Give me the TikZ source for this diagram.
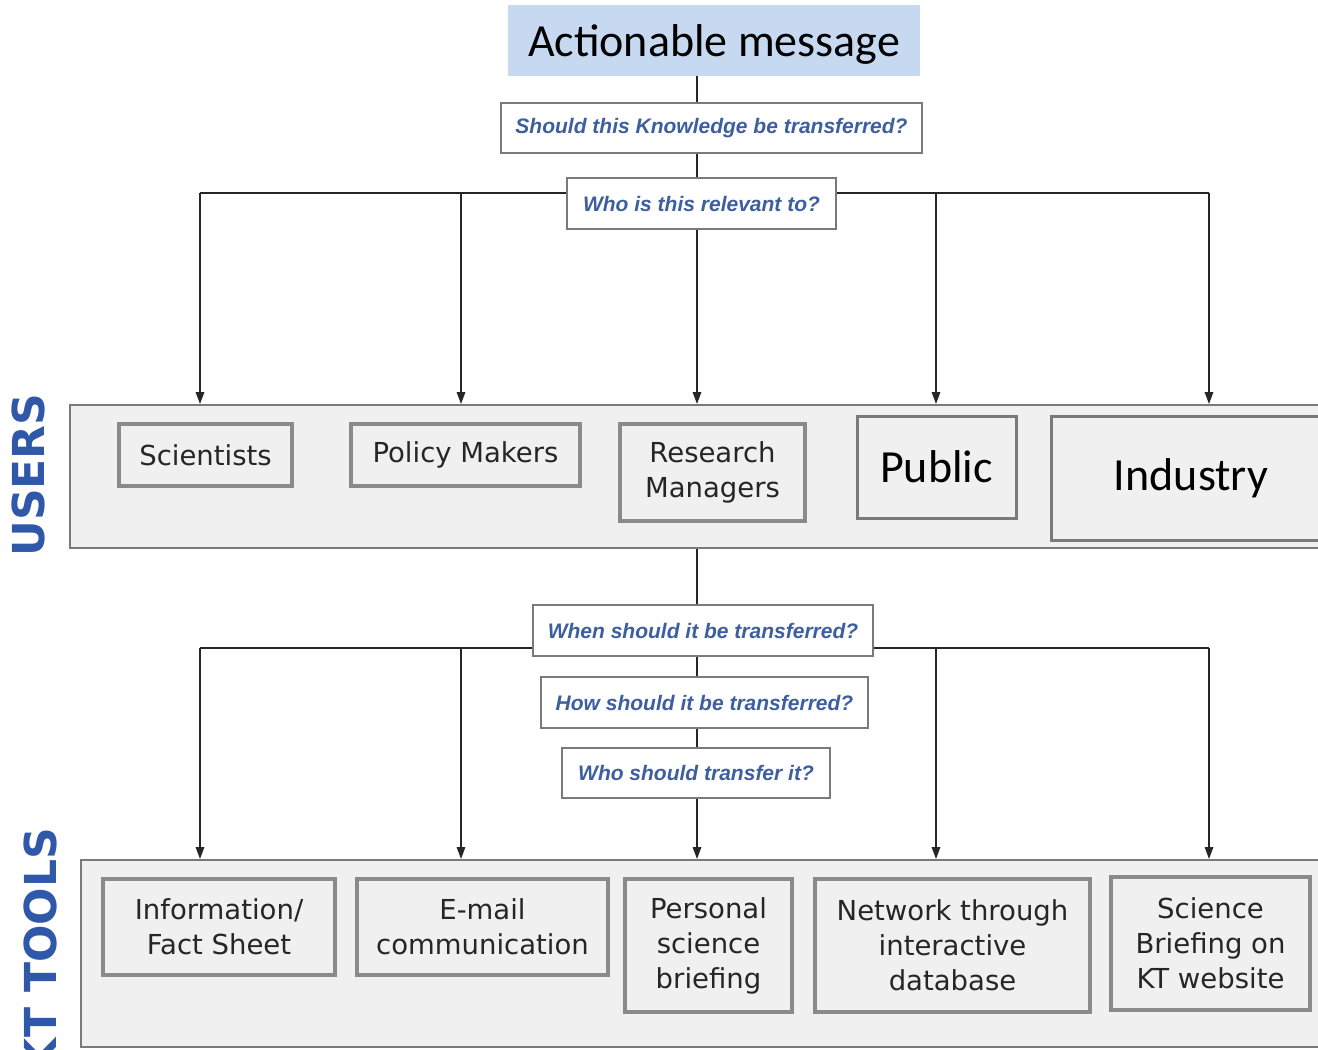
\documentclass[tikz,border=0pt]{standalone}
\usepackage{fontspec}
\usetikzlibrary{arrows.meta}
\newfontfamily\calib{Carlito}
\newfontfamily\arialf{Liberation Sans}
\newfontfamily\verd{DejaVu Sans}
\definecolor{qblue}{HTML}{3D5FA0}
\definecolor{lblue}{HTML}{2F58A8}
\definecolor{topfill}{HTML}{C6D9F1}
\definecolor{panelfill}{HTML}{F0F0F0}
\definecolor{bordgray}{HTML}{7A7A7A}
\definecolor{boxgray}{HTML}{8A8A8A}
\begin{document}
\begin{tikzpicture}[x=1pt,y=-1pt,
 qbox/.style={draw=bordgray, line width=1.8pt, fill=white, inner sep=0pt, font=\arialf\bfseries\itshape\fontsize{21}{25}\selectfont, text=qblue},
 panel/.style={draw=bordgray, line width=2pt, fill=panelfill, inner sep=0pt},
 ubox/.style={draw=boxgray, line width=3.5pt, fill=panelfill, inner sep=0pt, align=center, font=\verd\fontsize{27.5}{35}\selectfont, text=black!85},
 cbox/.style={draw=bordgray, line width=3pt, fill=panelfill, inner sep=0pt, font=\calib\fontsize{46}{50}\selectfont},
 conn/.style={line width=1.6pt, draw=black!85},
 arr/.style={conn, -{Triangle[length=12pt,width=8.5pt]}},
 side/.style={rotate=90, inner sep=0pt, font=\verd\bfseries\fontsize{44}{50}\selectfont, text=lblue}
]
\useasboundingbox (0,0) rectangle (1318,1050);
\clip (0,0) rectangle (1318,1050);
\fill[white] (0,0) rectangle (1318,1050);

% top
\node[fill=topfill, minimum width=412pt, minimum height=71pt, inner sep=0pt, text depth=0pt, font=\calib\fontsize{46}{50}\selectfont] (top) at (714,40.5) {Actionable message};
\node[qbox, minimum width=421pt, minimum height=50pt] (q1) at (711.5,128) {Should this Knowledge be transferred?};
\node[qbox, minimum width=269pt, minimum height=51pt] (q2) at (701.5,203.5) {Who is this relevant to?};

% users panel
\node[panel, minimum width=1260pt, minimum height=143pt] (users) at (700,476.5) {};
\node[side] (lu) at (28.5,475) {USERS};
\node[ubox, minimum width=173pt, minimum height=62pt] (sci) at (205.5,455) {Scientists};
\node[ubox, minimum width=229pt, minimum height=62pt] (pol) at (465.5,455) {Policy Makers};
\node[ubox, minimum width=185pt, minimum height=97pt] (res) at (712.5,472.5) {Research\\Managers};
\node[cbox, minimum width=159pt, minimum height=102pt] (pub) at (936.5,467) {Public};
\node[cbox, minimum width=280pt, minimum height=124pt] (ind) at (1191,478) {Industry};

% questions 2
\node[qbox, minimum width=340pt, minimum height=51pt] (q3) at (703,630.5) {When should it be transferred?};
\node[qbox, minimum width=327pt, minimum height=51pt] (q4) at (704.5,702.5) {How should it be transferred?};
\node[qbox, minimum width=268pt, minimum height=50pt] (q5) at (696,773) {Who should transfer it?};

% tools panel
\node[panel, minimum width=1249pt, minimum height=187pt] (tools) at (705.5,953.5) {};
\node[side] (lk) at (40,950) {KT TOOLS};
\node[ubox, minimum width=232pt, minimum height=96pt] (t1) at (219,927) {Information/\\Fact Sheet};
\node[ubox, minimum width=251pt, minimum height=96pt] (t2) at (482.5,927) {E-mail\\communication};
\node[ubox, minimum width=167pt, minimum height=133pt] (t3) at (708.5,945.5) {Personal\\science\\briefing};
\node[ubox, minimum width=275pt, minimum height=133pt] (t4) at (952.5,945.5) {Network through\\interactive\\database};
\node[ubox, minimum width=199pt, minimum height=133pt] (t5) at (1210.5,943.5) {Science\\Briefing on\\KT website};

% connectors
\coordinate (s) at (697,0);
\draw[conn] (top.south -| s) -- (q1.north -| s);
\draw[conn] (q1.south -| s) -- (q2.north -| s);
\coordinate (u1) at (200,193);
\coordinate (u2) at (461,193);
\coordinate (u4) at (936,193);
\coordinate (u5) at (1209,193);
\draw[conn] (u1) -- (q2.west |- u1);
\draw[conn] (q2.east |- u5) -- (u5);
\foreach \c in {u1,u2,u4,u5} \draw[arr] (\c) -- (\c |- users.north);
\draw[arr] (q2.south -| s) -- (users.north -| s);

\draw[conn] (users.south -| s) -- (q3.north -| s);
\coordinate (w1) at (200,648);
\coordinate (w2) at (461,648);
\coordinate (w4) at (936,648);
\coordinate (w5) at (1209,648);
\draw[conn] (w1) -- (q3.west |- w1);
\draw[conn] (q3.east |- w5) -- (w5);
\draw[conn] (q3.south -| s) -- (q4.north -| s);
\draw[conn] (q4.south -| s) -- (q5.north -| s);
\foreach \c in {w1,w2,w4,w5} \draw[arr] (\c) -- (\c |- tools.north);
\draw[arr] (q5.south -| s) -- (tools.north -| s);
\end{tikzpicture}
\end{document}
